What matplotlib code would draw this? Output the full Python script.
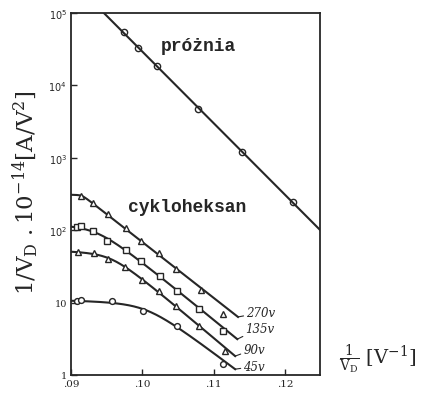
import numpy as np
import matplotlib
matplotlib.use("Agg")
import matplotlib.pyplot as plt

# ---- data ----
vac_x = [0.0974, 0.0994, 0.1021, 0.1078, 0.1140, 0.1211]
vac_y = [54700, 32900, 18500, 4720, 1200, 245]

v270_x = [0.0914, 0.0931, 0.0952, 0.0977, 0.0998, 0.1023, 0.1047, 0.1082, 0.1113]
v270_y = [300, 238, 167, 107, 71, 48, 29, 15, 7.0]

v135_x = [0.0908, 0.0914, 0.0931, 0.0950, 0.0977, 0.0998, 0.1025, 0.1049, 0.1080, 0.1113]
v135_y = [111, 114, 97, 71, 53, 37.6, 23, 14.5, 8.2, 4.05]

v90_x = [0.0910, 0.0932, 0.0952, 0.0976, 0.1000, 0.1023, 0.1047, 0.1080, 0.1116]
v90_y = [50, 49, 40, 31, 20.5, 14.5, 9.0, 4.75, 2.15]

v45_x = [0.0908, 0.0914, 0.0958, 0.1001, 0.1049, 0.1113]
v45_y = [10.5, 10.9, 10.5, 7.65, 4.75, 1.42]

# where each drawn curve starts (at the axis) and ends
curve_start_y = [306, 111, 50, 10.5]
curve_end_x = [0.1134, 0.1133, 0.1130, 0.1130]
curve_end_y = [6.5, 3.15, 1.83, 1.21]
series_labels = ["270v", "135v", "90v", "45v"]

x_ticks = [0.09, 0.10, 0.11, 0.12]
x_tick_labels = [".09", ".10", ".11", ".12"]
y_ticks = [1, 10, 100, 1000, 10000, 100000]
y_tick_labels = ["1", "10", r"$10^2$", r"$10^3$", r"$10^4$", r"$10^5$"]

ink = "#262626"


def fit_knee(fx, fy, w):
    """Least-squares fit of a smooth 'flat then straight' curve in log space."""
    best = None
    for x0 in np.linspace(0.070, 0.108, 77):
        for s in np.linspace(0.0005, 0.012, 47):
            f = ((fx - x0) + np.sqrt((fx - x0) ** 2 + s ** 2)) / 2
            A = np.vstack([np.ones_like(fx), f]).T * w[:, None]
            coef, *_ = np.linalg.lstsq(A, fy * w, rcond=None)
            r = np.sum((A @ coef - fy * w) ** 2)
            if best is None or r < best[0]:
                best = (r, x0, s, coef)
    _, x0, s, coef = best

    def model(x):
        f = ((x - x0) + np.sqrt((x - x0) ** 2 + s ** 2)) / 2
        return coef[0] + coef[1] * f
    return model


fig = plt.figure(figsize=(4.36, 4.02), dpi=100)
ax = fig.add_axes([0.163, 0.065, 0.571, 0.900])
ax.set_yscale("log")
ax.set_xlim(0.09, 0.1249)
ax.set_ylim(1, 1e5)

# vacuum line
p = np.polyfit(vac_x, np.log10(vac_y), 1)
xx = np.linspace(0.09, 0.1249, 200)
ax.plot(xx, 10 ** np.polyval(p, xx), color=ink, lw=1.5)
ax.plot(vac_x, vac_y, "o", ms=4.5, mfc="none", mec=ink, mew=1.0)

# cyclohexane curves
series = [(v270_x, v270_y, "^"), (v135_x, v135_y, "s"),
          (v90_x, v90_y, "^"), (v45_x, v45_y, "o")]
label_offsets = [(6, 3), (6, 8), (6, 5), (6, 2)]
for (sx, sy, mk), y0, xe, ye, lab, off in zip(series, curve_start_y, curve_end_x,
                                             curve_end_y, series_labels, label_offsets):
    fx = np.array([0.09] + list(sx) + [xe])
    fy = np.log10([y0] + list(sy) + [ye])
    w = np.ones_like(fx)
    w[0] = 3
    w[-1] = 3
    model = fit_knee(fx, fy, w)
    xs = np.linspace(0.09, xe, 200)
    ys = 10 ** model(xs)
    ax.plot(xs, ys, color=ink, lw=1.5)
    ax.plot(sx, sy, mk, ms=4.2, mfc="white", mec=ink, mew=1.0)
    ax.annotate(lab, xy=(xe, ys[-1]), xytext=off, textcoords="offset points",
                fontsize=8.5, style="italic", family="DejaVu Serif", color=ink,
                va="center", ha="left", annotation_clip=False,
                arrowprops=dict(arrowstyle="-", color=ink, lw=0.8,
                                shrinkA=0, shrinkB=0))

for s in ax.spines.values():
    s.set_color(ink)
    s.set_linewidth(1.3)

ax.set_xticks(x_ticks)
ax.set_xticklabels(x_tick_labels, family="DejaVu Serif", fontsize=7.5)
ax.set_yticks(y_ticks)
ax.set_yticklabels(y_tick_labels, family="DejaVu Serif", fontsize=7)
ax.minorticks_off()
ax.tick_params(direction="in", length=4, width=1, colors=ink, pad=3)

ax.text(0.1078, 36000, "próżnia", family="Liberation Mono", weight="bold",
        fontsize=13, color=ink, ha="center", va="center")
ax.text(0.1063, 210, "cykloheksan", family="Liberation Mono", weight="bold",
        fontsize=13, color=ink, ha="center", va="center")

fig.text(0.057, 0.52, r"$\mathrm{1/V_D\ .10^{-14}}\left[\mathrm{A/V^2}\right]$",
         rotation=90, fontsize=16.5, color=ink, ha="center", va="center",
         math_fontfamily="dejavuserif")
fig.text(0.865, 0.105, r"$\frac{\mathrm{1}}{\mathrm{V_D}}\ \left[\mathrm{V^{-1}}\right]$",
         fontsize=14, color=ink, ha="center", va="center",
         math_fontfamily="dejavuserif")

fig.savefig("out.png", dpi=100, facecolor="white")
